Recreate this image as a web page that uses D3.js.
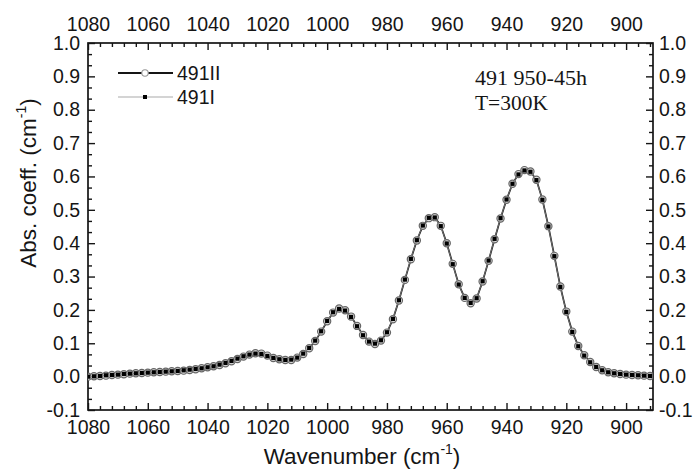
<!DOCTYPE html>
<html><head><meta charset="utf-8">
<script src="https://cdn.jsdelivr.net/npm/d3@7"></script>
<style>body{margin:0;background:#fff}svg{display:block}</style>
</head><body>
<svg id="c" width="694" height="472"></svg>
<script>
const wavenumber = [1080,1078,1076,1074,1072,1070,1068,1066,1064,1062,1060,1058,1056,1054,1052,1050,1048,1046,1044,1042,1040,1038,1036,1034,1032,1030,1028,1026,1024,1022,1020,1018,1016,1014,1012,1010,1008,1006,1004,1002,1000,998,996,994,992,990,988,986,984,982,980,978,976,974,972,970,968,966,964,962,960,958,956,954,952,950,948,946,944,942,940,938,936,934,932,930,928,926,924,922,920,918,916,914,912,910,908,906,904,902,900,898,896,894,892,890];
const abs491II = [0.000,0.001,0.002,0.003,0.005,0.006,0.007,0.009,0.010,0.011,0.012,0.013,0.014,0.015,0.016,0.017,0.018,0.020,0.022,0.025,0.028,0.031,0.035,0.040,0.046,0.053,0.060,0.066,0.070,0.069,0.063,0.056,0.052,0.050,0.050,0.057,0.068,0.085,0.107,0.135,0.166,0.192,0.204,0.199,0.180,0.152,0.125,0.105,0.098,0.108,0.132,0.172,0.228,0.290,0.352,0.408,0.452,0.475,0.478,0.452,0.400,0.338,0.277,0.236,0.220,0.234,0.285,0.347,0.412,0.474,0.530,0.578,0.607,0.619,0.615,0.590,0.531,0.451,0.362,0.270,0.195,0.135,0.092,0.064,0.044,0.029,0.019,0.013,0.010,0.008,0.006,0.005,0.004,0.003,0.002,0.002];
const abs491I = [0.000,0.001,0.002,0.004,0.005,0.006,0.008,0.009,0.010,0.011,0.012,0.013,0.014,0.015,0.016,0.017,0.019,0.021,0.023,0.025,0.028,0.031,0.036,0.041,0.047,0.054,0.061,0.066,0.069,0.068,0.062,0.056,0.052,0.050,0.051,0.057,0.069,0.086,0.108,0.136,0.167,0.193,0.203,0.198,0.179,0.151,0.124,0.105,0.099,0.109,0.133,0.173,0.229,0.291,0.353,0.409,0.453,0.476,0.477,0.451,0.399,0.337,0.276,0.236,0.221,0.235,0.286,0.348,0.413,0.475,0.531,0.578,0.606,0.618,0.614,0.589,0.530,0.450,0.361,0.269,0.194,0.134,0.091,0.063,0.043,0.029,0.019,0.013,0.010,0.008,0.006,0.005,0.004,0.003,0.002,0.002];
const xTickLabels = [1080,1060,1040,1020,1000,980,960,940,920,900];
const xMinorTicks = [1076,1072,1068,1064,1056,1052,1048,1044,1036,1032,1028,1024,1016,1012,1008,1004,996,992,988,984,976,972,968,964,956,952,948,944,936,932,928,924,916,912,908,904,896,892];
const yTickLabels = [-0.1,0.0,0.1,0.2,0.3,0.4,0.5,0.6,0.7,0.8,0.9,1.0];
const seriesNames = ["491II","491I"];
const noteLines = ["491 950-45h","T=300K"];

const L=88,R=653,T=43,B=410;
const svg=d3.select("#c");
svg.append("rect").attr("width",694).attr("height",472).attr("fill","#fff");
const x=d3.scaleLinear().domain([1080,891]).range([L,R]);
const y=d3.scaleLinear().domain([-0.1,1.0]).range([B,T]);
const yMinor=[];
yTickLabels.forEach((v,i)=>{ if(i<yTickLabels.length-1){ yMinor.push(+(v+0.1/3).toFixed(4)); yMinor.push(+(v+0.2/3).toFixed(4)); } });

const font="'Liberation Sans', Arial, sans-serif";
const ink="#151515";
function styleAxis(g){
  g.select(".domain").remove();
  g.selectAll("line").attr("stroke",ink).attr("stroke-width",1.4);
  g.selectAll("text").attr("font-family",font).attr("font-size",19.5).attr("fill",ink);
}
const fmtY=d=>d3.format(".1f")(d).replace("−","-");
// bottom
svg.append("g").attr("transform",`translate(0,${B})`).call(d3.axisBottom(x).tickValues(xTickLabels).tickSize(-7).tickPadding(10).tickFormat(d3.format("d"))).call(styleAxis);
svg.append("g").attr("transform",`translate(0,${B})`).call(d3.axisBottom(x).tickValues(xMinorTicks).tickSize(-4).tickFormat("")).call(styleAxis);
// top
svg.append("g").attr("transform",`translate(0,${T})`).call(d3.axisTop(x).tickValues(xTickLabels).tickSize(-7).tickPadding(12).tickFormat(d3.format("d"))).call(styleAxis);
svg.append("g").attr("transform",`translate(0,${T})`).call(d3.axisTop(x).tickValues(xMinorTicks).tickSize(-4).tickFormat("")).call(styleAxis);
// left
svg.append("g").attr("transform",`translate(${L},0)`).call(d3.axisLeft(y).tickValues(yTickLabels).tickSize(-7).tickPadding(8).tickFormat(fmtY)).call(styleAxis);
svg.append("g").attr("transform",`translate(${L},0)`).call(d3.axisLeft(y).tickValues(yMinor).tickSize(-4).tickFormat("")).call(styleAxis);
// right
svg.append("g").attr("transform",`translate(${R},0)`).call(d3.axisRight(y).tickValues(yTickLabels).tickSize(-7).tickPadding(6).tickFormat(fmtY)).call(styleAxis);
svg.append("g").attr("transform",`translate(${R},0)`).call(d3.axisRight(y).tickValues(yMinor).tickSize(-4).tickFormat("")).call(styleAxis);

// frame
svg.append("rect").attr("x",L).attr("y",T).attr("width",R-L).attr("height",B-T).attr("fill","none").attr("stroke",ink).attr("stroke-width",1.7);

// data
svg.append("clipPath").attr("id","clip").append("rect").attr("x",L).attr("y",T).attr("width",R-L).attr("height",B-T);
const plot=svg.append("g").attr("clip-path","url(#clip)");
const dII=wavenumber.map((w,i)=>[w,abs491II[i]]);
const dI=wavenumber.map((w,i)=>[w,abs491I[i]]);
const line=d3.line().x(d=>x(d[0])).y(d=>y(d[1]));
plot.append("path").datum(dII).attr("d",line).attr("fill","none").attr("stroke",ink).attr("stroke-width",1.7);
plot.selectAll("circle.s2").data(dII).join("circle").attr("class","s2").attr("cx",d=>x(d[0])).attr("cy",d=>y(d[1])).attr("r",3.6).attr("fill","#ddd").attr("stroke","#666").attr("stroke-width",1.2);
plot.append("path").datum(dI).attr("d",line).attr("fill","none").attr("stroke","#888").attr("stroke-width",0.8);
plot.selectAll("rect.s1").data(dI).join("rect").attr("class","s1").attr("x",d=>x(d[0])-2.1).attr("y",d=>y(d[1])-2.1).attr("width",4.2).attr("height",4.2).attr("fill","#000");

// legend
const lg=svg.append("g");
const ly=[73,97];
lg.append("line").attr("x1",118).attr("x2",173).attr("y1",ly[0]).attr("y2",ly[0]).attr("stroke",ink).attr("stroke-width",2);
lg.append("circle").attr("cx",145).attr("cy",ly[0]).attr("r",3.2).attr("fill","#fff").attr("stroke","#999").attr("stroke-width",1.1);
lg.append("line").attr("x1",118).attr("x2",173).attr("y1",ly[1]).attr("y2",ly[1]).attr("stroke","#aaa").attr("stroke-width",1.2);
lg.append("rect").attr("x",143).attr("y",ly[1]-2).attr("width",4).attr("height",4).attr("fill","#000");
seriesNames.forEach((n,i)=>{
  lg.append("text").attr("x",177).attr("y",ly[i]+7).attr("font-family",font).attr("font-size",19.5).attr("fill",ink).text(n);
});

// notes
noteLines.forEach((t,i)=>{
  svg.append("text").attr("x",475).attr("y",[85,110][i]).attr("font-family","'Liberation Serif','Times New Roman',serif").attr("font-size",20).attr("fill",ink)
    .attr("textLength",[112,73][i]).attr("lengthAdjust","spacingAndGlyphs").text(t);
});

// axis titles
const xt=svg.append("text").attr("x",362).attr("y",464).attr("text-anchor","middle").attr("font-family",font).attr("font-size",22.5).attr("fill",ink);
xt.append("tspan").text("Wavenumber  (cm");
xt.append("tspan").attr("font-size",14).attr("dy",-10).text("-1");
xt.append("tspan").attr("dy",10).text(")");
const yt=svg.append("text").attr("transform","translate(36,183) rotate(-90)").attr("text-anchor","middle").attr("font-family",font).attr("font-size",22.5).attr("fill",ink);
yt.append("tspan").text("Abs. coeff. (cm");
yt.append("tspan").attr("font-size",14).attr("dy",-10).text("-1");
yt.append("tspan").attr("dy",10).text(")");
</script>
</body></html>
